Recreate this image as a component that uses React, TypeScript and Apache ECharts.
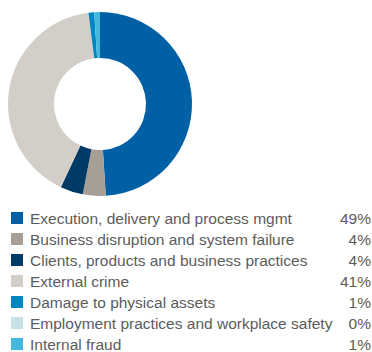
import React, { useEffect, useRef } from "react";
import * as echarts from "echarts";

const categories = [
  "Execution, delivery and process mgmt",
  "Business disruption and system failure",
  "Clients, products and business practices",
  "External crime",
  "Damage to physical assets",
  "Employment practices and workplace safety",
  "Internal fraud",
];
const values = [49, 4, 4, 41, 1, 0, 1];
const colors = ["#0060a5", "#a79e95", "#003a66", "#d3cfc8", "#0085c3", "#c7e1e9", "#45b8dd"];

export default function App() {
  const ref = useRef<HTMLDivElement>(null);
  useEffect(() => {
    const chart = echarts.init(ref.current!, undefined, { renderer: "svg" });
    const valueMap: Record<string, number> = {};
    categories.forEach((c, i) => (valueMap[c] = values[i]));
    const font = "Liberation Sans, Arial, sans-serif";
    chart.setOption({
      animation: false,
      color: colors,
      legend: {
        orient: "vertical",
        left: 6,
        top: 205,
        height: 300,
        itemWidth: 12,
        itemHeight: 12,
        itemGap: 5,
        icon: "rect",
        selectedMode: false,
        data: categories,
        formatter: (name: string) => `{n|${name}}{v|${valueMap[name]}%}`,
        textStyle: {
          rich: {
            n: { width: 288, fontSize: 15.5, fontFamily: font, color: "#5c5c5c", padding: [0, 0, 0, 2], lineHeight: 12 },
            v: { width: 53, align: "right", fontSize: 15.5, fontFamily: font, color: "#5c5c5c", lineHeight: 12 },
          },
        },
      },
      series: [
        {
          type: "pie",
          center: [100, 104],
          radius: [46, 92],
          startAngle: 90,
          clockwise: true,
          label: { show: false },
          labelLine: { show: false },
          silent: true,
          minAngle: 0,
          data: categories.map((c, i) => ({ name: c, value: values[i] })),
        },
      ],
    });
    return () => chart.dispose();
  }, []);
  return <div ref={ref} style={{ width: 372, height: 352, position: "absolute", left: 0, top: 0 }} />;
}
